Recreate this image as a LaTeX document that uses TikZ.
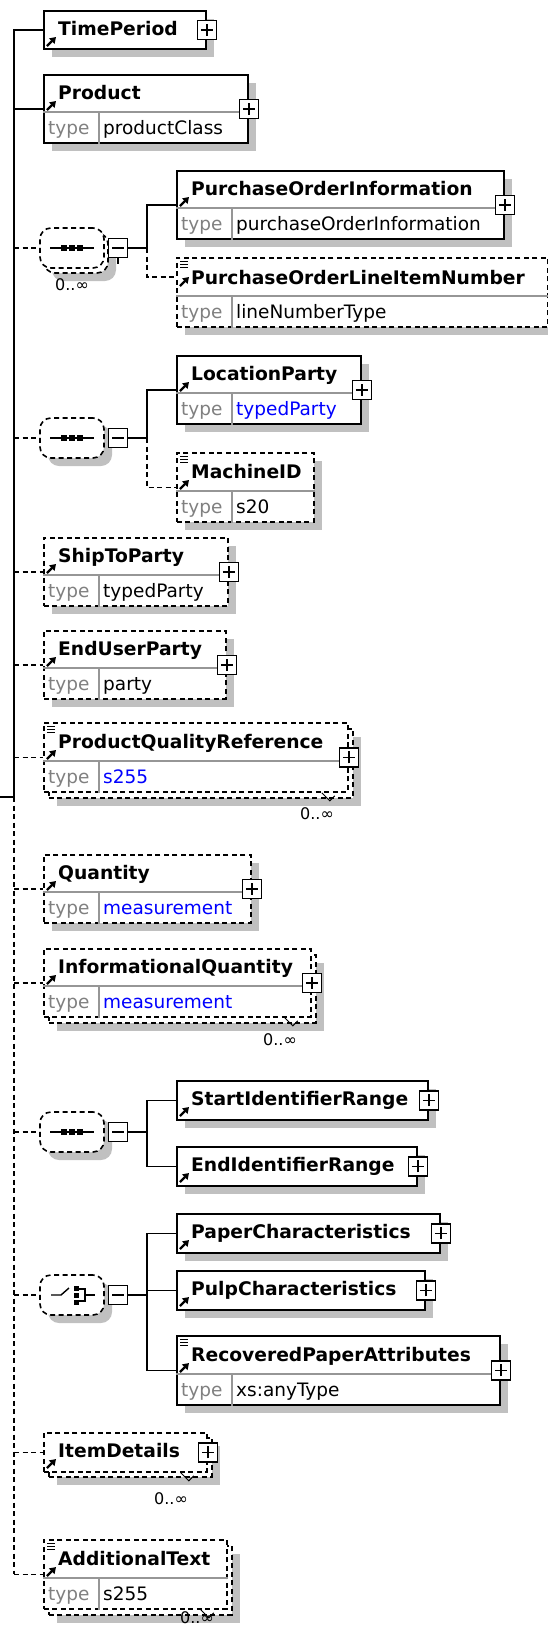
\documentclass[tikz,border=0pt]{standalone}
\usepackage{fontspec}
\setmainfont{DejaVu Sans}
\usetikzlibrary{positioning, shadows, arrows.meta}

\definecolor{shadowgray}{RGB}{192,192,192}
\definecolor{typegray}{RGB}{128,128,128}
\definecolor{rowgray}{RGB}{150,150,150}
\definecolor{typeblue}{RGB}{0,0,255}

\begin{document}
\begin{tikzpicture}[x=1pt, y=-1pt]
        % sizes are the pixels of the schema view, y grows downwards
        \tikzstyle{box}=[draw, line width=1.8pt, fill=white, inner sep=0pt, anchor=north west]
        \tikzstyle{elem}=[box, drop shadow={shadow xshift=8pt, shadow yshift=-8pt, fill=shadowgray, opacity=1}]
        \tikzstyle{optelem}=[elem, dash pattern=on 5pt off 3.5pt]
        \tikzstyle{optfront}=[box, dash pattern=on 5pt off 3.5pt]
        \tikzstyle{comp}=[rectangle, rounded corners=11pt, draw, line width=1.6pt, dash pattern=on 5pt off 3.5pt, fill=white, minimum width=64pt, minimum height=40pt, inner sep=0pt]
        \tikzstyle{compshadow}=[comp, drop shadow={shadow xshift=8pt, shadow yshift=-8pt, fill=shadowgray, opacity=1}]
        \tikzstyle{conn}=[line width=1.8pt]
        \tikzstyle{optconn}=[line width=1.8pt, dash pattern=on 5pt off 3.5pt]
        \tikzstyle{divline}=[line width=1.4pt, draw=rowgray]
        \tikzstyle{elname}=[anchor=base west, inner sep=0pt, font=\bfseries\fontsize{18.7}{20}\selectfont]
        \tikzstyle{typelbl}=[anchor=base west, inner sep=0pt, text=typegray, font=\fontsize{18.5}{20}\selectfont]
        \tikzstyle{typeval}=[anchor=base west, inner sep=0pt, font=\fontsize{18.5}{20}\selectfont]
        \tikzstyle{occ}=[inner sep=0pt, font=\fontsize{16}{16}\selectfont]
        \tikzstyle{refarrow}=[line width=2.2pt, -{Triangle[length=6pt, width=7.5pt]}]
        \tikzstyle{docmark}=[line width=1pt]
        \tikzstyle{minusbox}=[draw, line width=1.4pt, fill=white, minimum size=19pt, inner sep=0pt, path picture={\draw[line width=1.4pt] ([xshift=-6pt]path picture bounding box.center) -- ([xshift=6pt]path picture bounding box.center);}]
        \tikzstyle{plusbox}=[draw, line width=1.4pt, fill=white, minimum size=19pt, inner sep=0pt, path picture={\draw[line width=1.4pt] ([xshift=-6pt]path picture bounding box.center) -- ([xshift=6pt]path picture bounding box.center) ([yshift=-6pt]path picture bounding box.center) -- ([yshift=6pt]path picture bounding box.center);}]

        \useasboundingbox (0,0) rectangle (548,1625);
        \fill[white] (0,0) rectangle (548,1625);

        % trunk of the sequence
        \coordinate (trunktop) at (14,29);
        \coordinate (trunkin) at (14,797);
        \coordinate (parent) at (0,797);

        % TimePeriod
        \node[elem, minimum width=162pt, minimum height=38pt] (tp) at (43,10) {};
        \node[elname] at ([xshift=15pt,yshift=-25pt]tp.north west) {TimePeriod};
        \draw[refarrow] ([xshift=4pt,yshift=-36pt]tp.north west) -- ([xshift=13pt,yshift=-27pt]tp.north west);
        \node[plusbox] (tpplus) at (tp.east) {};

        % Product
        \node[elem, minimum width=204pt, minimum height=68pt] (prod) at (43,74) {};
        \draw[divline] ([yshift=-38pt]prod.north west) -- ([yshift=-38pt]prod.north east);
        \draw[divline] ([xshift=56pt,yshift=-38pt]prod.north west) -- ([xshift=56pt]prod.south west);
        \node[elname] at ([xshift=15pt,yshift=-25pt]prod.north west) {Product};
        \node[typelbl] at ([xshift=5pt,yshift=9pt]prod.south west) {type};
        \node[typeval] at ([xshift=60pt,yshift=9pt]prod.south west) {productClass};
        \draw[refarrow] ([xshift=4pt,yshift=-36pt]prod.north west) -- ([xshift=13pt,yshift=-27pt]prod.north west);
        \node[plusbox] (prodplus) at (prod.east) {};

        % first sequence, 0..unbounded
        \node[compshadow] (seqaback) at (76,253) {};
        \node[comp] (seqa) at (72,248) {};
        \draw[line width=1.4pt] ([xshift=-22pt]seqa.center) -- ([xshift=22pt]seqa.center);
        \foreach \dx in {-8,0,8}
          \fill ([xshift=\dx pt]seqa.center) +(-3,-3) rectangle +(3,3);
        \node[minusbox] (seqaminus) at (118,248) {};
        \draw[line width=1.4pt] (seqaminus.south) -- ++(0,6);
        \node[occ] (seqaocc) at (72,285) {0..∞};
        \coordinate (seqajoin) at (147,248);

        % PurchaseOrderInformation
        \node[elem, minimum width=327pt, minimum height=68pt] (poi) at (176,170) {};
        \draw[divline] ([yshift=-38pt]poi.north west) -- ([yshift=-38pt]poi.north east);
        \draw[divline] ([xshift=56pt,yshift=-38pt]poi.north west) -- ([xshift=56pt]poi.south west);
        \node[elname] at ([xshift=15pt,yshift=-25pt]poi.north west) {PurchaseOrderInformation};
        \node[typelbl] at ([xshift=5pt,yshift=9pt]poi.south west) {type};
        \node[typeval] at ([xshift=60pt,yshift=9pt]poi.south west) {purchaseOrderInformation};
        \draw[refarrow] ([xshift=4pt,yshift=-36pt]poi.north west) -- ([xshift=13pt,yshift=-27pt]poi.north west);
        \node[plusbox] (poiplus) at (poi.east) {};

        % PurchaseOrderLineItemNumber
        \node[optelem, minimum width=371pt, minimum height=69pt] (polin) at (176,257) {};
        \coordinate (polinin) at ([yshift=-20pt]polin.north west);
        \draw[divline] ([yshift=-39pt]polin.north west) -- ([yshift=-39pt]polin.north east);
        \draw[divline] ([xshift=56pt,yshift=-39pt]polin.north west) -- ([xshift=56pt]polin.south west);
        \foreach \dy in {4,7,10}
          \draw[docmark] ([xshift=4pt,yshift=-\dy pt]polin.north west) -- ++(8,0);
        \node[elname] at ([xshift=15pt,yshift=-27pt]polin.north west) {PurchaseOrderLineItemNumber};
        \node[typelbl] at ([xshift=5pt,yshift=9pt]polin.south west) {type};
        \node[typeval] at ([xshift=60pt,yshift=9pt]polin.south west) {lineNumberType};
        \draw[refarrow] ([xshift=4pt,yshift=-29pt]polin.north west) -- ([xshift=13pt,yshift=-20pt]polin.north west);

        % second sequence
        \node[compshadow] (seqb) at (72,438) {};
        \draw[line width=1.4pt] ([xshift=-22pt]seqb.center) -- ([xshift=22pt]seqb.center);
        \foreach \dx in {-8,0,8}
          \fill ([xshift=\dx pt]seqb.center) +(-3,-3) rectangle +(3,3);
        \node[minusbox] (seqbminus) at (118,438) {};
        \coordinate (seqbjoin) at (147,438);

        % LocationParty
        \node[elem, minimum width=184pt, minimum height=68pt] (locp) at (176,355) {};
        \draw[divline] ([yshift=-38pt]locp.north west) -- ([yshift=-38pt]locp.north east);
        \draw[divline] ([xshift=56pt,yshift=-38pt]locp.north west) -- ([xshift=56pt]locp.south west);
        \node[elname] at ([xshift=15pt,yshift=-25pt]locp.north west) {LocationParty};
        \node[typelbl] at ([xshift=5pt,yshift=9pt]locp.south west) {type};
        \node[typeval, text=typeblue] at ([xshift=60pt,yshift=9pt]locp.south west) {typedParty};
        \draw[refarrow] ([xshift=4pt,yshift=-36pt]locp.north west) -- ([xshift=13pt,yshift=-27pt]locp.north west);
        \node[plusbox] (locpplus) at (locp.east) {};

        % MachineID
        \node[optelem, minimum width=137pt, minimum height=69pt] (mid) at (176,452) {};
        \draw[divline] ([yshift=-39pt]mid.north west) -- ([yshift=-39pt]mid.north east);
        \draw[divline] ([xshift=56pt,yshift=-39pt]mid.north west) -- ([xshift=56pt]mid.south west);
        \foreach \dy in {4,7,10}
          \draw[docmark] ([xshift=4pt,yshift=-\dy pt]mid.north west) -- ++(8,0);
        \node[elname] at ([xshift=15pt,yshift=-26pt]mid.north west) {MachineID};
        \node[typelbl] at ([xshift=5pt,yshift=9pt]mid.south west) {type};
        \node[typeval] at ([xshift=60pt,yshift=9pt]mid.south west) {s20};
        \draw[refarrow] ([xshift=4pt,yshift=-37pt]mid.north west) -- ([xshift=13pt,yshift=-28pt]mid.north west);

        % ShipToParty
        \node[optelem, minimum width=184pt, minimum height=68pt] (ship) at (43,537) {};
        \draw[divline] ([yshift=-38pt]ship.north west) -- ([yshift=-38pt]ship.north east);
        \draw[divline] ([xshift=56pt,yshift=-38pt]ship.north west) -- ([xshift=56pt]ship.south west);
        \node[elname] at ([xshift=15pt,yshift=-25pt]ship.north west) {ShipToParty};
        \node[typelbl] at ([xshift=5pt,yshift=9pt]ship.south west) {type};
        \node[typeval] at ([xshift=60pt,yshift=9pt]ship.south west) {typedParty};
        \draw[refarrow] ([xshift=4pt,yshift=-36pt]ship.north west) -- ([xshift=13pt,yshift=-27pt]ship.north west);
        \node[plusbox] (shipplus) at (ship.east) {};

        % EndUserParty
        \node[optelem, minimum width=182pt, minimum height=68pt] (endu) at (43,630) {};
        \draw[divline] ([yshift=-38pt]endu.north west) -- ([yshift=-38pt]endu.north east);
        \draw[divline] ([xshift=56pt,yshift=-38pt]endu.north west) -- ([xshift=56pt]endu.south west);
        \node[elname] at ([xshift=15pt,yshift=-25pt]endu.north west) {EndUserParty};
        \node[typelbl] at ([xshift=5pt,yshift=9pt]endu.south west) {type};
        \node[typeval] at ([xshift=60pt,yshift=9pt]endu.south west) {party};
        \draw[refarrow] ([xshift=4pt,yshift=-36pt]endu.north west) -- ([xshift=13pt,yshift=-27pt]endu.north west);
        \node[plusbox] (enduplus) at (endu.east) {};

        % ProductQualityReference, 0..unbounded
        \node[optelem, minimum width=304pt, minimum height=69pt] (pqrback) at (48,728) {};
        \node[optfront, minimum width=304pt, minimum height=69pt] (pqr) at (43,722) {};
        \draw[divline] ([yshift=-39pt]pqr.north west) -- ([yshift=-39pt]pqr.north east);
        \draw[divline] ([xshift=56pt,yshift=-39pt]pqr.north west) -- ([xshift=56pt]pqr.south west);
        \foreach \dy in {4,7,10}
          \draw[docmark] ([xshift=4pt,yshift=-\dy pt]pqr.north west) -- ++(8,0);
        \node[elname] at ([xshift=15pt,yshift=-26pt]pqr.north west) {ProductQualityReference};
        \node[typelbl] at ([xshift=5pt,yshift=9pt]pqr.south west) {type};
        \node[typeval, text=typeblue] at ([xshift=60pt,yshift=9pt]pqr.south west) {s255};
        \draw[refarrow] ([xshift=4pt,yshift=-37pt]pqr.north west) -- ([xshift=13pt,yshift=-28pt]pqr.north west);
        \node[plusbox] (pqrplus) at (pqr.east) {};
        \draw[line width=1pt] ([xshift=-27pt]pqr.south east) -- ++(8,8) -- ++(5,-5);
        \node[occ] (pqrocc) at (317,814) {0..∞};

        % Quantity
        \node[optelem, minimum width=207pt, minimum height=68pt] (qty) at (43,854) {};
        \draw[divline] ([yshift=-38pt]qty.north west) -- ([yshift=-38pt]qty.north east);
        \draw[divline] ([xshift=56pt,yshift=-38pt]qty.north west) -- ([xshift=56pt]qty.south west);
        \node[elname] at ([xshift=15pt,yshift=-25pt]qty.north west) {Quantity};
        \node[typelbl] at ([xshift=5pt,yshift=9pt]qty.south west) {type};
        \node[typeval, text=typeblue] at ([xshift=60pt,yshift=9pt]qty.south west) {measurement};
        \draw[refarrow] ([xshift=4pt,yshift=-36pt]qty.north west) -- ([xshift=13pt,yshift=-27pt]qty.north west);
        \node[plusbox] (qtyplus) at (qty.east) {};

        % InformationalQuantity, 0..unbounded
        \node[optelem, minimum width=267pt, minimum height=68pt] (iqback) at (48,954) {};
        \node[optfront, minimum width=267pt, minimum height=68pt] (iq) at (43,948) {};
        \draw[divline] ([yshift=-38pt]iq.north west) -- ([yshift=-38pt]iq.north east);
        \draw[divline] ([xshift=56pt,yshift=-38pt]iq.north west) -- ([xshift=56pt]iq.south west);
        \node[elname] at ([xshift=15pt,yshift=-25pt]iq.north west) {InformationalQuantity};
        \node[typelbl] at ([xshift=5pt,yshift=9pt]iq.south west) {type};
        \node[typeval, text=typeblue] at ([xshift=60pt,yshift=9pt]iq.south west) {measurement};
        \draw[refarrow] ([xshift=4pt,yshift=-36pt]iq.north west) -- ([xshift=13pt,yshift=-27pt]iq.north west);
        \node[plusbox] (iqplus) at (iq.east) {};
        \draw[line width=1pt] ([xshift=-27pt]iq.south east) -- ++(8,8) -- ++(5,-5);
        \node[occ] (iqocc) at (280,1040) {0..∞};

        % third sequence
        \node[compshadow] (seqc) at (72,1132) {};
        \draw[line width=1.4pt] ([xshift=-22pt]seqc.center) -- ([xshift=22pt]seqc.center);
        \foreach \dx in {-8,0,8}
          \fill ([xshift=\dx pt]seqc.center) +(-3,-3) rectangle +(3,3);
        \node[minusbox] (seqcminus) at (118,1132) {};
        \coordinate (seqcjoin) at (147,1132);

        % StartIdentifierRange
        \node[elem, minimum width=251pt, minimum height=39pt] (sir) at (176,1080) {};
        \node[elname] at ([xshift=15pt,yshift=-25pt]sir.north west) {StartIdentifierRange};
        \draw[refarrow] ([xshift=4pt,yshift=-36pt]sir.north west) -- ([xshift=13pt,yshift=-27pt]sir.north west);
        \node[plusbox] (sirplus) at (sir.east) {};

        % EndIdentifierRange
        \node[elem, minimum width=240pt, minimum height=39pt] (eir) at (176,1146) {};
        \node[elname] at ([xshift=15pt,yshift=-25pt]eir.north west) {EndIdentifierRange};
        \draw[refarrow] ([xshift=4pt,yshift=-36pt]eir.north west) -- ([xshift=13pt,yshift=-27pt]eir.north west);
        \node[plusbox] (eirplus) at (eir.east) {};

        % choice
        \node[compshadow] (choice) at (72,1295) {};
        \draw[line width=1.4pt] ([xshift=-21pt]choice.center) -- ([xshift=-11pt]choice.center) -- ([xshift=-3pt,yshift=7pt]choice.center);
        \foreach \dy in {-7,0,7}
          \fill ([xshift=4pt,yshift=\dy pt]choice.center) +(-2.5,-2.5) rectangle +(2.5,2.5);
        \draw[line width=1.4pt] ([xshift=7pt,yshift=6pt]choice.center) -- ([xshift=13pt,yshift=6pt]choice.center) -- ([xshift=13pt,yshift=-6pt]choice.center) -- ([xshift=7pt,yshift=-6pt]choice.center);
        \draw[line width=1.4pt] ([xshift=13pt]choice.center) -- ([xshift=23pt]choice.center);
        \node[minusbox] (choiceminus) at (118,1295) {};
        \coordinate (choicejoin) at (147,1295);

        % PaperCharacteristics
        \node[elem, minimum width=263pt, minimum height=39pt] (paper) at (176,1213) {};
        \node[elname] at ([xshift=15pt,yshift=-25pt]paper.north west) {PaperCharacteristics};
        \draw[refarrow] ([xshift=4pt,yshift=-36pt]paper.north west) -- ([xshift=13pt,yshift=-27pt]paper.north west);
        \node[plusbox] (paperplus) at (paper.east) {};

        % PulpCharacteristics
        \node[elem, minimum width=248pt, minimum height=39pt] (pulp) at (176,1270) {};
        \node[elname] at ([xshift=15pt,yshift=-25pt]pulp.north west) {PulpCharacteristics};
        \draw[refarrow] ([xshift=4pt,yshift=-36pt]pulp.north west) -- ([xshift=13pt,yshift=-27pt]pulp.north west);
        \node[plusbox] (pulpplus) at (pulp.east) {};

        % RecoveredPaperAttributes
        \node[elem, minimum width=323pt, minimum height=69pt] (rpa) at (176,1335) {};
        \draw[divline] ([yshift=-39pt]rpa.north west) -- ([yshift=-39pt]rpa.north east);
        \draw[divline] ([xshift=56pt,yshift=-39pt]rpa.north west) -- ([xshift=56pt]rpa.south west);
        \foreach \dy in {4,7,10}
          \draw[docmark] ([xshift=4pt,yshift=-\dy pt]rpa.north west) -- ++(8,0);
        \node[elname] at ([xshift=15pt,yshift=-26pt]rpa.north west) {RecoveredPaperAttributes};
        \node[typelbl] at ([xshift=5pt,yshift=9pt]rpa.south west) {type};
        \node[typeval] at ([xshift=60pt,yshift=9pt]rpa.south west) {xs:anyType};
        \draw[refarrow] ([xshift=4pt,yshift=-37pt]rpa.north west) -- ([xshift=13pt,yshift=-28pt]rpa.north west);
        \node[plusbox] (rpaplus) at (rpa.east) {};

        % ItemDetails, 0..unbounded
        \node[optelem, minimum width=163pt, minimum height=39pt] (itemback) at (48,1437) {};
        \node[optfront, minimum width=163pt, minimum height=39pt] (item) at (43,1432) {};
        \node[elname] at ([xshift=15pt,yshift=-25pt]item.north west) {ItemDetails};
        \draw[refarrow] ([xshift=4pt,yshift=-36pt]item.north west) -- ([xshift=13pt,yshift=-27pt]item.north west);
        \node[plusbox] (itemplus) at (item.east) {};
        \draw[line width=1pt] ([xshift=-27pt]item.south east) -- ++(8,8) -- ++(5,-5);
        \node[occ] (itemocc) at (171,1499) {0..∞};

        % AdditionalText, 0..unbounded
        \node[optelem, minimum width=183pt, minimum height=69pt] (addback) at (48,1545) {};
        \node[optfront, minimum width=183pt, minimum height=69pt] (add) at (43,1539) {};
        \draw[divline] ([yshift=-39pt]add.north west) -- ([yshift=-39pt]add.north east);
        \draw[divline] ([xshift=56pt,yshift=-39pt]add.north west) -- ([xshift=56pt]add.south west);
        \foreach \dy in {4,7,10}
          \draw[docmark] ([xshift=4pt,yshift=-\dy pt]add.north west) -- ++(8,0);
        \node[elname] at ([xshift=15pt,yshift=-26pt]add.north west) {AdditionalText};
        \node[typelbl] at ([xshift=5pt,yshift=9pt]add.south west) {type};
        \node[typeval] at ([xshift=60pt,yshift=9pt]add.south west) {s255};
        \draw[refarrow] ([xshift=4pt,yshift=-37pt]add.north west) -- ([xshift=13pt,yshift=-28pt]add.north west);
        \draw[line width=1pt] ([xshift=-27pt]add.south east) -- ++(8,8) -- ++(5,-5);
        \node[occ] (addocc) at (197,1618) {0..∞};

        % connectors
        \draw[conn] (parent) -- (trunkin);
        \draw[conn] (trunktop) -- (trunkin);
        \draw[optconn] (trunkin) -- (add.west -| trunkin);
        \draw[conn] (tp.west -| trunktop) -- (tp.west);
        \draw[conn] (prod.west -| trunktop) -- (prod.west);
        \draw[optconn] (seqa.west -| trunktop) -- (seqa.west);
        \draw[optconn] (seqb.west -| trunktop) -- (seqb.west);
        \draw[optconn] (ship.west -| trunktop) -- (ship.west);
        \draw[optconn] (endu.west -| trunktop) -- (endu.west);
        \draw[optconn] (pqr.west -| trunktop) -- (pqr.west);
        \draw[optconn] (qty.west -| trunktop) -- (qty.west);
        \draw[optconn] (iq.west -| trunktop) -- (iq.west);
        \draw[optconn] (seqc.west -| trunktop) -- (seqc.west);
        \draw[optconn] (choice.west -| trunktop) -- (choice.west);
        \draw[optconn] (item.west -| trunktop) -- (item.west);
        \draw[optconn] (add.west -| trunktop) -- (add.west);

        \draw[conn] (seqaminus) -- (seqajoin);
        \draw[conn] (seqajoin) |- (poi.west);
        \draw[optconn] (seqajoin) |- (polinin);
        \draw[conn] (seqbminus) -- (seqbjoin);
        \draw[conn] (seqbjoin) |- (locp.west);
        \draw[optconn] (seqbjoin) |- (mid.west);
        \draw[conn] (seqcminus) -- (seqcjoin);
        \draw[conn] (seqcjoin) |- (sir.west);
        \draw[conn] (seqcjoin) |- (eir.west);
        \draw[conn] (choiceminus) -- (choicejoin);
        \draw[conn] (choicejoin) |- (paper.west);
        \draw[conn] (choicejoin) |- (pulp.west);
        \draw[conn] (choicejoin) |- (rpa.west);
\end{tikzpicture}
\end{document}
